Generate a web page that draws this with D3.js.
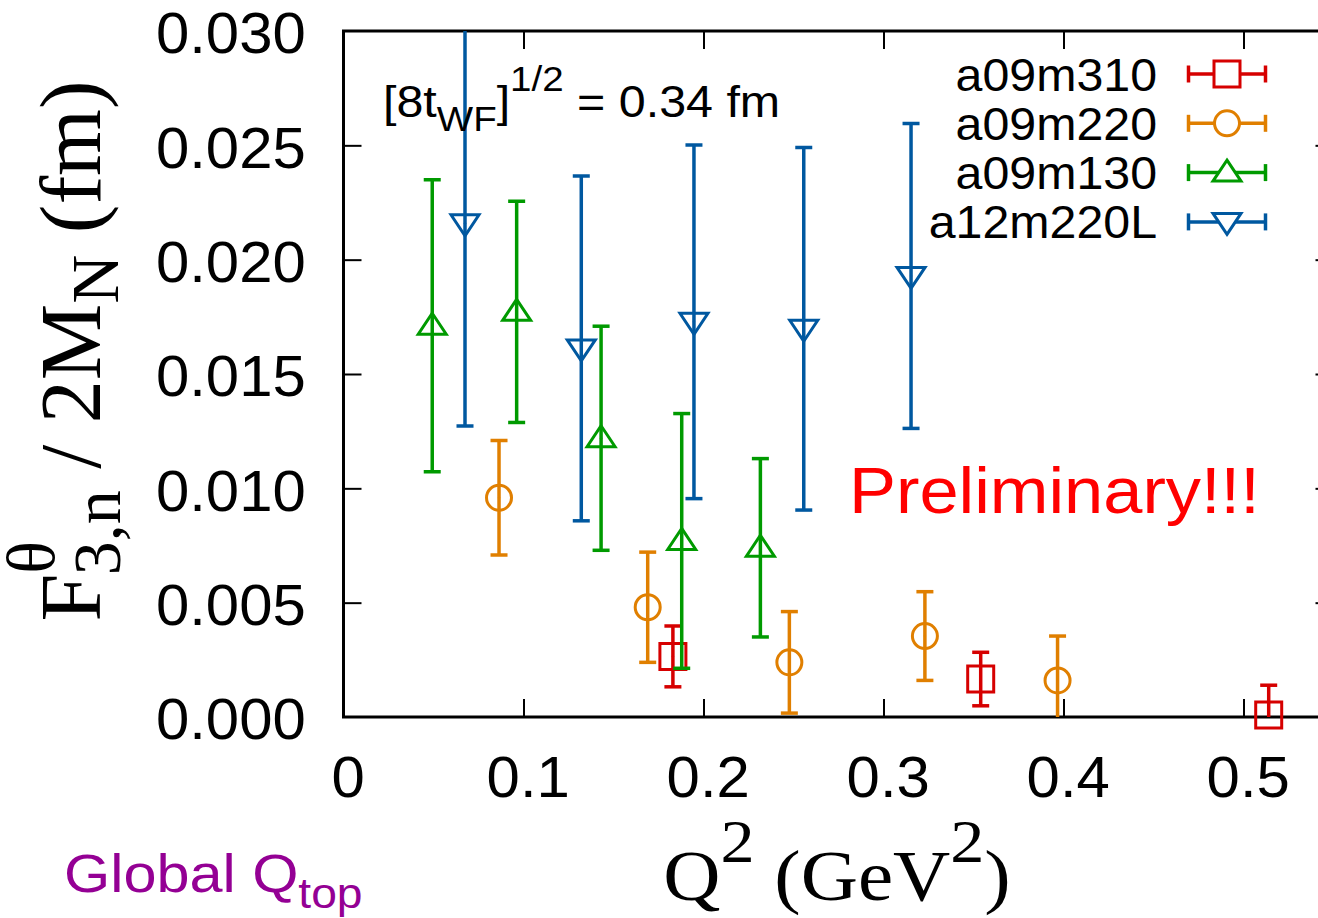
<!DOCTYPE html>
<html>
<head>
<meta charset="utf-8">
<script src="https://cdn.jsdelivr.net/npm/d3@7"></script>
<style>
  body { margin: 0; background: #fff; }
  svg { display: block; }
</style>
</head>
<body>
<svg id="chart"></svg>
<script>
// data: Q^2 (GeV^2), value (fm), symmetric error
var series_names = ["a09m310", "a09m220", "a09m130", "a12m220L"];
var series_colors = ["#d60000", "#e07f00", "#009a00", "#0058a0"];
var series_symbols = ["square", "circle", "triangle", "invtriangle"];

var a09m310_x = [0.183, 0.354, 0.514];
var a09m310_y = [0.00265, 0.00166, 0.00009];
var a09m310_err = [0.00133, 0.00117, 0.0013];

var a09m220_x = [0.0864, 0.169, 0.2477, 0.323, 0.3967];
var a09m220_y = [0.00959, 0.0048, 0.00239, 0.00354, 0.0016];
var a09m220_err = [0.0025, 0.00241, 0.00222, 0.00194, 0.00194];

var a09m130_x = [0.0493, 0.0962, 0.1431, 0.1879, 0.2316];
var a09m130_y = [0.01711, 0.01772, 0.01219, 0.0077, 0.0074];
var a09m130_err = [0.00638, 0.00484, 0.0049, 0.00557, 0.0039];

var a12m220L_x = [0.0675, 0.1321, 0.1947, 0.2557, 0.3153];
var a12m220L_y = [0.02159, 0.01612, 0.01728, 0.01698, 0.01929];
var a12m220L_err = [0.00886, 0.00754, 0.00773, 0.00793, 0.00667];

var x_ticks = [0, 0.1, 0.2, 0.3, 0.4, 0.5];
var y_ticks = [0, 0.005, 0.010, 0.015, 0.020, 0.025, 0.030];

var W = 1318, H = 918;
var mLeft = 343.5, mTop = 31, plotW = 990, plotH = 686;
var stretch = "scale(1.1,1)";   // the original picture is a bit wide
var stretchTick = "scale(1.05,1)";

var svg = d3.select("#chart").attr("width", W).attr("height", H);

var x = d3.scaleLinear().domain([0, 0.55]).range([mLeft, mLeft + plotW]);
var y = d3.scaleLinear().domain([0, 0.030]).range([mTop + plotH, mTop]);

var all = [
  {x: a09m310_x, y: a09m310_y, e: a09m310_err},
  {x: a09m220_x, y: a09m220_y, e: a09m220_err},
  {x: a09m130_x, y: a09m130_y, e: a09m130_err},
  {x: a12m220L_x, y: a12m220L_y, e: a12m220L_err}
].map(function(s, i) {
  return {
    name: series_names[i], color: series_colors[i], symbol: series_symbols[i],
    points: s.x.map(function(v, j) { return {x: v, y: s.y[j], e: s.e[j]}; })
  };
});

svg.append("defs").append("clipPath").attr("id", "plotclip")
  .append("rect").attr("x", mLeft).attr("y", mTop).attr("width", plotW).attr("height", plotH);

// axes, ticks pointing inward
var fontSans = "'Liberation Sans', Arial, Helvetica, sans-serif";
var fontSerif = "'Liberation Serif', 'Times New Roman', Times, serif";

var gx = svg.append("g").attr("transform", "translate(0," + (mTop + plotH) + ")")
  .call(d3.axisBottom(x).tickValues(x_ticks).tickSizeInner(-18).tickSizeOuter(0)
    .tickPadding(40).tickFormat(d3.format("")));
var gy = svg.append("g").attr("transform", "translate(" + mLeft + ",0)")
  .call(d3.axisLeft(y).tickValues(y_ticks).tickSizeInner(-18).tickSizeOuter(0)
    .tickPadding(36).tickFormat(d3.format(".3f")));
var gt = svg.append("g").attr("transform", "translate(0," + mTop + ")")
  .call(d3.axisTop(x).tickValues(x_ticks).tickSizeInner(-18).tickSizeOuter(0).tickFormat(""));
var gr = svg.append("g").attr("transform", "translate(" + (mLeft + plotW) + ",0)")
  .call(d3.axisRight(y).tickValues(y_ticks).tickSizeInner(-18).tickSizeOuter(0).tickFormat(""));

[gx, gy, gt, gr].forEach(function(g) {
  g.select(".domain").remove();
  g.selectAll(".tick line").attr("stroke", "#000").attr("stroke-width", 2);
});
gx.selectAll(".tick line").filter(function(d) { return d === 0; }).remove();
gt.selectAll(".tick line").filter(function(d) { return d === 0; }).remove();
gy.selectAll(".tick line").filter(function(d) { return d === 0 || d === 0.030; }).remove();
gr.selectAll(".tick line").filter(function(d) { return d === 0 || d === 0.030; }).remove();

gx.selectAll(".tick text").attr("font-family", fontSans).attr("font-size", 57)
  .attr("fill", "#000").attr("x", 4).attr("transform", stretchTick);
gy.selectAll(".tick text").attr("font-family", fontSans).attr("font-size", 57)
  .attr("fill", "#000").attr("dy", "0.38em").attr("transform", stretchTick);

svg.append("rect").attr("x", mLeft).attr("y", mTop).attr("width", plotW).attr("height", plotH)
  .attr("fill", "none").attr("stroke", "#000").attr("stroke-width", 3);

// symbols
function symbolPath(type) {
  if (type === "square") return "M-13,-13H13V13H-13Z";
  if (type === "circle") return "M12.5,0A12.5,12.5 0 1,1 -12.5,0A12.5,12.5 0 1,1 12.5,0Z";
  if (type === "triangle") return "M0,-12.5L14,8.5L-14,8.5Z";
  return "M0,12.5L14,-8.5L-14,-8.5Z";
}

var capW = 8.5;
all.forEach(function(s) {
  var g = svg.append("g").attr("stroke", s.color).attr("fill", "none");
  var bars = g.append("g").attr("clip-path", "url(#plotclip)").attr("stroke-width", 3.5);
  s.points.forEach(function(p) {
    var px = x(p.x), y1 = y(p.y + p.e), y0 = y(p.y - p.e);
    bars.append("line").attr("x1", px).attr("x2", px).attr("y1", y1).attr("y2", y0);
    bars.append("line").attr("x1", px - capW).attr("x2", px + capW).attr("y1", y1).attr("y2", y1);
    bars.append("line").attr("x1", px - capW).attr("x2", px + capW).attr("y1", y0).attr("y2", y0);
  });
  g.selectAll("path.sym").data(s.points).enter().append("path")
    .attr("class", "sym")
    .attr("transform", function(p) { return "translate(" + x(p.x) + "," + y(p.y) + ")"; })
    .attr("d", symbolPath(s.symbol)).attr("stroke-width", 3);
  g.selectAll("circle.dot").data(s.points).enter().append("circle")
    .attr("class", "dot").attr("cx", function(p) { return x(p.x); })
    .attr("cy", function(p) { return y(p.y); }).attr("r", 1.2)
    .attr("fill", s.color).attr("stroke", "none");
});

// legend
var legX = 1157, legY0 = 74, legStep = 49.3;
all.forEach(function(s, i) {
  var cy = legY0 + i * legStep;
  svg.append("text").attr("x", 0).attr("y", 0)
    .attr("transform", "translate(" + legX + "," + (cy + 16.5) + ") " + stretchTick)
    .attr("text-anchor", "end").attr("font-family", fontSans).attr("font-size", 46)
    .text(s.name);
  var g = svg.append("g").attr("stroke", s.color).attr("fill", "none").attr("stroke-width", 3.5);
  g.append("line").attr("x1", 1187).attr("x2", 1267).attr("y1", cy).attr("y2", cy);
  g.append("line").attr("x1", 1188.5).attr("x2", 1188.5).attr("y1", cy - capW).attr("y2", cy + capW);
  g.append("line").attr("x1", 1265.5).attr("x2", 1265.5).attr("y1", cy - capW).attr("y2", cy + capW);
  g.append("path").attr("transform", "translate(1227," + cy + ")")
    .attr("d", symbolPath(s.symbol)).attr("stroke-width", 3).attr("fill", "#fff");
});

// annotation texts
var ann = svg.append("text").attr("transform", "translate(383,117) " + stretch)
  .attr("font-family", fontSans).attr("font-size", 44).attr("fill", "#000");
ann.append("tspan").text("[8t");
ann.append("tspan").attr("font-size", 35).attr("dy", 14).text("WF");
ann.append("tspan").attr("dy", -14).text("]");
ann.append("tspan").attr("font-size", 35).attr("dy", -26).text("1/2");
ann.append("tspan").attr("dy", 26).text(" = 0.34 fm");

svg.append("text").attr("transform", "translate(849,513) " + stretch)
  .attr("font-family", fontSans).attr("font-size", 64).attr("fill", "#ff0000")
  .text("Preliminary!!!");

var gq = svg.append("text").attr("transform", "translate(64,892) " + stretch)
  .attr("font-family", fontSans).attr("font-size", 54).attr("fill", "#940094");
gq.append("tspan").text("Global Q");
gq.append("tspan").attr("font-size", 42).attr("dy", 16).text("top");

// axis titles
var xt = svg.append("text").attr("transform", "translate(837,900) " + stretch)
  .attr("text-anchor", "middle").attr("font-family", fontSerif).attr("font-size", 72).attr("fill", "#000");
xt.append("tspan").text("Q");
xt.append("tspan").attr("font-size", 62).attr("dy", -38).text("2");
xt.append("tspan").attr("dy", 38).text(" (GeV");
xt.append("tspan").attr("font-size", 62).attr("dy", -38).text("2");
xt.append("tspan").attr("dy", 38).text(")");

var yt = svg.append("text").attr("transform", "translate(100,351) rotate(-90)")
  .attr("text-anchor", "middle").attr("font-family", fontSerif).attr("font-size", 86).attr("fill", "#000");
yt.append("tspan").text("F");
yt.append("tspan").attr("font-size", 68).attr("dy", -46).text("θ");
yt.append("tspan").attr("font-size", 68).attr("dx", -34).attr("dy", 66).text("3,n");
yt.append("tspan").attr("dy", -20).text(" / 2M");
yt.append("tspan").attr("font-size", 68).attr("dy", 18).text("N");
yt.append("tspan").attr("dy", -18).text(" (fm)");
</script>
</body>
</html>
